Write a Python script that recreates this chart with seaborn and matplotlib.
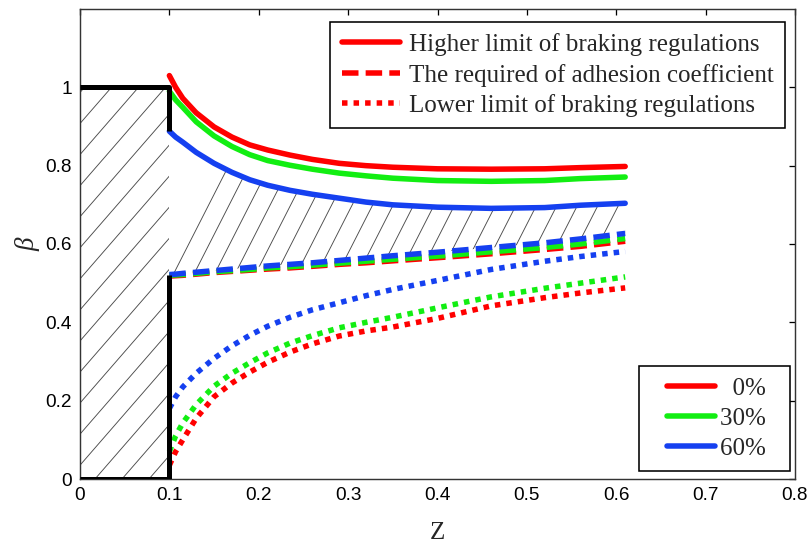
import numpy as np
import pandas as pd
import matplotlib
matplotlib.use("Agg")
import matplotlib.pyplot as plt
from matplotlib.lines import Line2D
from matplotlib.collections import LineCollection
from matplotlib.legend_handler import HandlerLine2D
import seaborn as sns

# ---------------- data ----------------
z = [0.1, 0.107, 0.115, 0.13, 0.15, 0.17, 0.19, 0.21, 0.235, 0.26, 0.29,
     0.32, 0.35, 0.4, 0.46, 0.52, 0.56, 0.61]

high_0 = [1.03, 1.0, 0.972, 0.935, 0.899, 0.873, 0.853, 0.84, 0.827, 0.816,
          0.806, 0.8, 0.796, 0.792, 0.791, 0.792, 0.795, 0.798]
high_30 = [0.99, 0.968, 0.949, 0.912, 0.876, 0.849, 0.828, 0.813, 0.801,
           0.791, 0.781, 0.774, 0.768, 0.762, 0.76, 0.762, 0.767, 0.771]
high_60 = [0.888, 0.873, 0.86, 0.834, 0.806, 0.783, 0.764, 0.75, 0.737,
           0.727, 0.717, 0.707, 0.7, 0.694, 0.691, 0.693, 0.699, 0.704]

req_0 = [0.518, 0.519, 0.52, 0.523, 0.527, 0.53, 0.533, 0.536, 0.539, 0.543,
         0.548, 0.552, 0.557, 0.565, 0.575, 0.586, 0.594, 0.607]
req_30 = [0.52, 0.521, 0.522, 0.525, 0.529, 0.532, 0.535, 0.539, 0.542,
          0.546, 0.551, 0.556, 0.561, 0.569, 0.58, 0.591, 0.6, 0.614]
req_60 = [0.522, 0.523, 0.525, 0.528, 0.532, 0.536, 0.54, 0.544, 0.548,
          0.552, 0.558, 0.564, 0.57, 0.579, 0.591, 0.603, 0.613, 0.627]

low_0 = [0.035, 0.07, 0.1, 0.155, 0.21, 0.245, 0.273, 0.298, 0.324, 0.345,
         0.365, 0.378, 0.388, 0.41, 0.442, 0.463, 0.475, 0.488]
low_30 = [0.07, 0.11, 0.143, 0.19, 0.237, 0.27, 0.297, 0.322, 0.347, 0.366,
          0.386, 0.4, 0.413, 0.437, 0.465, 0.487, 0.5, 0.516]
low_60 = [0.18, 0.21, 0.235, 0.27, 0.308, 0.34, 0.367, 0.39, 0.413, 0.432,
          0.45, 0.468, 0.484, 0.507, 0.535, 0.556, 0.568, 0.581]

# left rectangle of the feasible (hatched) region
box_x = [0.0, 0.1]
box_top = 1.0

legend_types = ["Higher limit of braking regulations",
                "The required of adhesion coefficient",
                "Lower limit of braking regulations"]
legend_loads = ["  0%  ", "30%  ", "60%  "]

x_ticks = [0, 0.1, 0.2, 0.3, 0.4, 0.5, 0.6, 0.7, 0.8]
y_ticks = [0, 0.2, 0.4, 0.6, 0.8, 1.0]
x_ticklabels = ["0", "0.1", "0.2", "0.3", "0.4", "0.5", "0.6", "0.7", "0.8"]
y_ticklabels = ["0", "0.2", "0.4", "0.6", "0.8", "1"]

# ---------------- style ----------------
DPI = 115
sns.set_style("white")
plt.rcParams["font.family"] = ["Liberation Sans", "DejaVu Sans"]


def px(v):
    return v * 72.0 / DPI


RED, GREEN, BLUE = "#ff0000", "#12ee12", "#1540f0"
LW = px(5.5)
SOLID = "-"
DASH = (0, (3.0, 1.3))
DOT = (0, (1.0, 1.1))

XMAX, YMAX = 0.8, 1.2
AX_W, AX_H = 715, 470

fig = plt.figure(figsize=(809 / DPI, 546 / DPI), dpi=DPI)
ax = fig.add_axes([80 / 809, 1 - 479 / 546, AX_W / 809, AX_H / 546])
ax.set_xlim(0, XMAX)
ax.set_ylim(0, YMAX)

SX, SY = AX_W / XMAX, AX_H / YMAX   # pixels per data unit


def hatch(patch, xr, yr, angle_deg, spacing_px, phase=0.0):
    slope = np.tan(np.radians(angle_deg)) * SX / SY
    dz = spacing_px / SX
    start = xr[0] - (yr[1] - yr[0]) / slope - dz + phase
    segs = []
    for z0 in np.arange(start, xr[1] + dz, dz):
        segs.append([(z0 + yr[0] / slope, yr[0]), (z0 + yr[1] / slope, yr[1])])
    lc = LineCollection(segs, colors="#4a4a4a", linewidths=px(0.9), zorder=1)
    ax.add_collection(lc)
    lc.set_clip_path(patch)


# hatched feasible region: left box and band between blue curves
left_patch = ax.fill(box_x + box_x[::-1], [0.0, 0.0, box_top, box_top],
                     facecolor="none", edgecolor="none", linewidth=0)[0]
band_patch = ax.fill(z + z[::-1], req_60 + high_60[::-1],
                     facecolor="none", edgecolor="none", linewidth=0)[0]
hatch(left_patch, (0.0, 0.1), (0.0, 1.0), 49, 27, phase=0.005)
hatch(band_patch, (0.1, 0.61), (0.5, 0.9), 63, 20.5)

# curves
series = [
    (high_0, RED, SOLID), (high_30, GREEN, SOLID), (high_60, BLUE, SOLID),
    (low_0, RED, DOT), (low_30, GREEN, DOT), (low_60, BLUE, DOT),
    (req_0, RED, DASH), (req_30, GREEN, DASH), (req_60, BLUE, DASH),
]
for vals, col, ls in series:
    sns.lineplot(x=z, y=vals, color=col, linestyle=ls, linewidth=LW, ax=ax,
                 zorder=3)

# thick black boundary lines
ax.plot([box_x[0], box_x[1], box_x[1]], [box_top, box_top, high_60[0]],
        color="black", linewidth=px(5), solid_capstyle="butt", zorder=4)
ax.plot([box_x[1], box_x[1], box_x[0]], [req_60[0], 0.0, 0.0],
        color="black", linewidth=px(5), solid_capstyle="butt", zorder=4)

# axes
ax.set_xlim(0, XMAX)
ax.set_ylim(0, YMAX)
ax.set_xticks(x_ticks)
ax.set_xticklabels(x_ticklabels)
ax.set_yticks(y_ticks)
ax.set_yticklabels(y_ticklabels)
ax.tick_params(direction="in", length=4, width=0.8, top=True, right=True,
               labelsize=px(19), colors="black", pad=5)
for sp in ax.spines.values():
    sp.set_visible(True)
    sp.set_color("#333333")
    sp.set_linewidth(0.9)

ax.set_xlabel("Z", family="Liberation Serif", fontsize=px(25), labelpad=11)
ax.set_ylabel("β", family="Liberation Serif", style="italic",
              fontsize=px(27), labelpad=3)

serif = {"family": "Liberation Serif", "size": px(25)}

h1 = [Line2D([], [], color=RED, linewidth=LW, linestyle=s)
      for s in (SOLID, DASH, DOT)]
leg1 = ax.legend(h1, legend_types, loc="upper right",
                 bbox_to_anchor=(705 / 715, (479 - 22) / 470),
                 prop=serif, frameon=True, fancybox=False, edgecolor="black",
                 framealpha=1, handlelength=2.35, handletextpad=0.35,
                 labelspacing=0.3, borderpad=0.45, borderaxespad=0)
leg1.get_frame().set_linewidth(1.0)
ax.add_artist(leg1)

h2 = [Line2D([], [], color=c, linewidth=LW) for c in (RED, GREEN, BLUE)]
leg2 = ax.legend(h2, legend_loads, loc="lower right",
                 bbox_to_anchor=(710 / 715, 8 / 470),
                 prop=serif, frameon=True, fancybox=False, edgecolor="black",
                 framealpha=1, handlelength=2.6, handletextpad=0.2,
                 labelspacing=0.3, borderpad=0.45, borderaxespad=0,
                 handler_map={Line2D: HandlerLine2D(xpad=0.68)})
leg2.get_frame().set_linewidth(1.0)

fig.savefig("out.png", dpi=DPI)
